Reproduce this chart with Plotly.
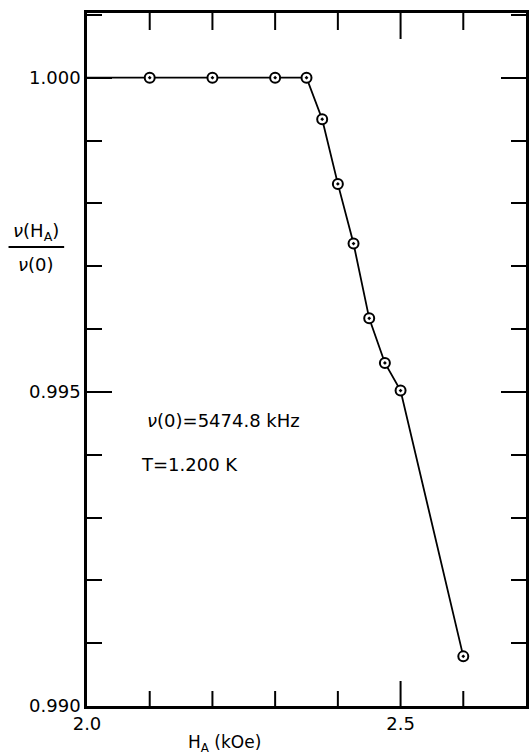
import plotly.graph_objects as go

# Data
h_a = [2.10, 2.20, 2.30, 2.35, 2.375, 2.40, 2.425, 2.45, 2.475, 2.50, 2.60]
ratio = [1.0000, 1.0000, 1.0000, 1.0000, 0.99934, 0.99831, 0.99736,
         0.99617, 0.99546, 0.99502, 0.99079]
# line begins at the left frame on the 1.000 level
line_start_x = [2.0]
line_start_y = [1.0000]

x_range = [2.0, 2.7]
y_range = [0.990, 1.00103]
x_major = [2.5]
x_minor = [2.1, 2.2, 2.3, 2.4, 2.6]

FONT = "DejaVu Sans"

W, H = 530, 755
L, R, T, B = 87, 1, 13, 49
pw, ph = W - L - R, H - T - B


def px_x(px):
    return (px - L) / pw


def px_y(py):
    return 1 - (py - T) / ph


fig = go.Figure()
fig.add_trace(go.Scatter(
    x=line_start_x + h_a, y=line_start_y + ratio, mode="lines",
    line=dict(color="black", width=1.8), hoverinfo="skip", showlegend=False))
fig.add_trace(go.Scatter(
    x=h_a, y=ratio, mode="markers",
    marker=dict(symbol="circle-dot", size=10, color="white",
                line=dict(color="black", width=2)),
    showlegend=False))

fig.update_xaxes(
    range=x_range, tick0=2.0, dtick=0.5, tickformat=".1f",
    showgrid=False, zeroline=False, showline=True, linecolor="black",
    linewidth=2.5, mirror=True, ticks="",
    tickfont=dict(family=FONT, size=18, color="black"))
fig.update_yaxes(
    range=y_range, tick0=0.990, dtick=0.005, tickformat=".3f",
    showgrid=False, zeroline=False, showline=True, linecolor="black",
    linewidth=2.5, mirror="ticks", ticks="inside", tickcolor="black",
    tickwidth=2, ticklen=25,
    tickfont=dict(family=FONT, size=18, color="black"),
    minor=dict(tick0=0.990, dtick=0.001, ticks="inside", ticklen=15,
               tickwidth=2, tickcolor="black", showgrid=False))

# x-axis tick marks (bottom and top, pointing inwards)
for vals, blen, tlen in ((x_minor, 15, 17), (x_major, 25, 26)):
    for v in vals:
        fig.add_shape(type="line", xref="x", yref="paper", x0=v, x1=v,
                      y0=0, y1=blen / ph, line=dict(color="black", width=2))
        fig.add_shape(type="line", xref="x", yref="paper", x0=v, x1=v,
                      y0=1, y1=1 - tlen / ph, line=dict(color="black", width=2))

annos = [
    dict(x=225, y=743, text="H<sub>A</sub> (kOe)", size=17),
    dict(x=36, y=232, text="<i>ν</i>(H<sub>A</sub>)", size=18),
    dict(x=36, y=264, text="<i>ν</i>(0)", size=18),
    dict(x=224, y=420, text="<i>ν</i>(0)=5474.8 kHz", size=18),
    dict(x=190, y=464, text="T=1.200 K", size=18),
]
for a in annos:
    fig.add_annotation(
        x=px_x(a["x"]), y=px_y(a["y"]), xref="paper", yref="paper",
        text=a["text"], showarrow=False, xanchor="center", yanchor="middle",
        font=dict(family=FONT, size=a["size"], color="black"))

# fraction bar for the y label
fig.add_shape(type="line", xref="paper", yref="paper",
              x0=px_x(8), x1=px_x(64), y0=px_y(247), y1=px_y(247),
              line=dict(color="black", width=2))

fig.update_layout(
    width=W, height=H,
    margin=dict(l=L, r=R, t=T, b=B),
    plot_bgcolor="white", paper_bgcolor="white",
    font=dict(family=FONT, color="black"),
)

fig.write_html("out.html")
